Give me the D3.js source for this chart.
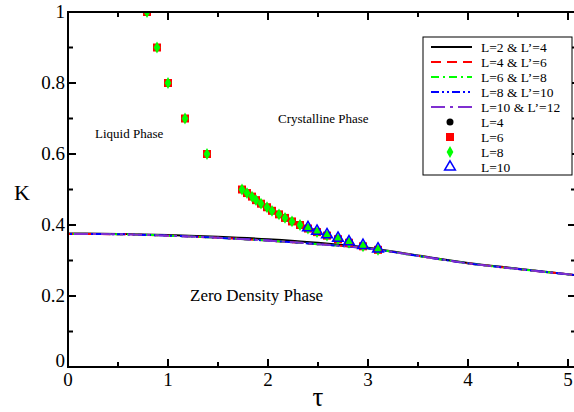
<!DOCTYPE html>
<html>
<head>
<meta charset="utf-8">
<script src="https://cdnjs.cloudflare.com/ajax/libs/d3/7.8.5/d3.min.js"></script>
<style>
  body { margin: 0; background: #fff; }
</style>
</head>
<body>
<div class="chart"></div>
<script>
const width = 574
const height = 412

// curves (tau, K)
const lineTau = [0, 0.5, 1.0, 1.5, 2.0, 2.5, 3.0, 3.5, 4.0, 4.5, 5.0, 5.1]
const lineK2 = [0.376, 0.375, 0.372, 0.367, 0.360, 0.350, 0.336, 0.314, 0.293, 0.277, 0.261, 0.258]
const lineK4 = [0.375, 0.374, 0.370, 0.364, 0.356, 0.346, 0.334, 0.313, 0.292, 0.276, 0.261, 0.258]
const lineK6 = lineK4
const lineK8 = lineK4
const lineK10 = lineK4

// transition points
const ptTau = [0.79, 0.89, 1.0, 1.17, 1.39, 1.74, 1.79, 1.84, 1.88, 1.93, 1.99, 2.04, 2.11, 2.17, 2.24, 2.32, 2.40, 2.49, 2.59, 2.70, 2.81, 2.95, 3.10]
const ptK = [1.0, 0.9, 0.8, 0.7, 0.6, 0.50, 0.49, 0.48, 0.47, 0.46, 0.45, 0.44, 0.43, 0.42, 0.41, 0.40, 0.39, 0.38, 0.37, 0.36, 0.35, 0.34, 0.33]
const pt10Tau = [2.40, 2.49, 2.59, 2.70, 2.81, 2.95, 3.10]
const pt10K = [0.39, 0.38, 0.37, 0.36, 0.35, 0.34, 0.33]

const xTicks = [0, 1, 2, 3, 4, 5]
const yTicks = [0, 0.2, 0.4, 0.6, 0.8, 1]

const pLeft = 68, pRight = 576, pTop = 12, pBottom = 367

const x = d3.scaleLinear().domain([0, 5.08]).range([pLeft, pRight])
const y = d3.scaleLinear().domain([0, 1]).range([pBottom, pTop])

const svg = d3.select('.chart')
    .append('svg')
        .attr('width', width)
        .attr('height', height)
        .attr('font-family', '"Liberation Serif", "Times New Roman", serif')

const defs = svg.append('defs')
defs.append('clipPath').attr('id', 'clip')
    .append('rect').attr('x', pLeft).attr('y', pTop).attr('width', pRight - pLeft).attr('height', pBottom - pTop)

const plot = svg.append('g').attr('clip-path', 'url(#clip)')

const lines = [
    {k: lineK4, color: '#ff0000', dash: '10,6', label: "L=4 & L\u2019=6"},
    {k: lineK6, color: '#00ff00', dash: '8,4,2,4', label: "L=6 & L\u2019=8"},
    {k: lineK8, color: '#0000ff', dash: '8,3,2,3,2,3', label: "L=8 & L\u2019=10"},
    {k: lineK10, color: '#7f2fd0', dash: '14,5,3,5', label: "L=10 & L\u2019=12"},
]
const lineGen = d3.line().x(d => x(d[0])).y(d => y(d[1])).curve(d3.curveMonotoneX)

plot.append('path')
    .attr('d', lineGen(lineTau.map((t, i) => [t, lineK2[i]])))
    .attr('fill', 'none').attr('stroke', '#000').attr('stroke-width', 2)

lines.forEach((l, j) => {
    plot.append('path')
        .attr('d', lineGen(lineTau.map((t, i) => [t, l.k[i]])))
        .attr('fill', 'none')
        .attr('stroke', l.color)
        .attr('stroke-width', 2)
        .attr('stroke-dasharray', l.dash)
        .attr('stroke-dashoffset', j * 7)
})

const pts = ptTau.map((t, i) => [t, ptK[i]])
const pts10 = pt10Tau.map((t, i) => [t, pt10K[i]])

plot.selectAll('.l4').data(pts).join('circle')
    .attr('cx', d => x(d[0])).attr('cy', d => y(d[1])).attr('r', 3.5).attr('fill', '#000')
plot.selectAll('.l6').data(pts).join('rect')
    .attr('x', d => x(d[0]) - 4).attr('y', d => y(d[1]) - 4)
    .attr('width', 8).attr('height', 8).attr('fill', '#ff0000')
plot.selectAll('.l8').data(pts).join('path')
    .attr('d', d3.symbol().type(d3.symbolDiamond).size(40))
    .attr('transform', d => `translate(${x(d[0])},${y(d[1])})`)
    .attr('fill', '#00ff00')
plot.selectAll('.l10').data(pts10).join('path')
    .attr('d', d3.symbol().type(d3.symbolTriangle).size(50))
    .attr('transform', d => `translate(${x(d[0])},${y(d[1]) - 1})`)
    .attr('fill', 'none').attr('stroke', '#0000ff').attr('stroke-width', 1.5)

// frame
svg.append('rect')
    .attr('x', pLeft).attr('y', pTop).attr('width', pRight - pLeft).attr('height', pBottom - pTop)
    .attr('fill', 'none').attr('stroke', '#000').attr('stroke-width', 2)

const ticks = svg.append('g').attr('stroke', '#000').attr('stroke-width', 2)
d3.range(0, 5.01, 0.5).forEach(v => {
    const len = Math.abs(v - Math.round(v)) < 1e-6 ? 8 : 5
    ticks.append('line').attr('x1', x(v)).attr('x2', x(v)).attr('y1', pBottom).attr('y2', pBottom - len)
    ticks.append('line').attr('x1', x(v)).attr('x2', x(v)).attr('y1', pTop).attr('y2', pTop + len)
})
d3.range(0, 1.001, 0.1).forEach(v => {
    const len = Math.round(v * 10) % 2 === 0 ? 8 : 5
    ticks.append('line').attr('y1', y(v)).attr('y2', y(v)).attr('x1', pLeft).attr('x2', pLeft + len)
    ticks.append('line').attr('y1', y(v)).attr('y2', y(v)).attr('x1', pRight).attr('x2', pRight - len)
})

svg.selectAll('.xl').data(xTicks).join('text')
    .attr('x', d => x(d)).attr('y', pBottom + 19)
    .attr('text-anchor', 'middle').attr('font-size', 19)
    .text(d => d)
svg.selectAll('.yl').data(yTicks).join('text')
    .attr('x', pLeft - 3).attr('y', d => y(d) + (d === 0 ? 0 : 6))
    .attr('text-anchor', 'end').attr('font-size', 19)
    .text(d => d)

svg.append('text').attr('x', x(2.5)).attr('y', 406).attr('text-anchor', 'middle')
    .attr('font-size', 27).text('\u03c4')
svg.append('text').attr('x', 22).attr('y', 200).attr('text-anchor', 'middle')
    .attr('font-size', 22).text('K')

svg.append('text').attr('x', 95).attr('y', 138).attr('font-size', 13).text('Liquid Phase')
svg.append('text').attr('x', 278).attr('y', 123).attr('font-size', 13).text('Crystalline Phase')
svg.append('text').attr('x', 190).attr('y', 301).attr('font-size', 17).text('Zero Density Phase')

// legend
const lg = svg.append('g')
lg.append('rect').attr('x', 423).attr('y', 37).attr('width', 149).attr('height', 138)
    .attr('fill', '#fff').attr('stroke', '#000').attr('stroke-width', 1)
const rowY = i => 47 + i * 15
const allLines = [{color: '#000', dash: null, label: "L=2 & L\u2019=4"}, ...lines]
allLines.forEach((l, i) => {
    lg.append('line').attr('x1', 431).attr('x2', 472).attr('y1', rowY(i)).attr('y2', rowY(i))
        .attr('stroke', l.color).attr('stroke-width', 2)
        .attr('stroke-dasharray', l.dash)
    lg.append('text').attr('x', 481).attr('y', rowY(i) + 4.5).attr('font-size', 13.5).text(l.label)
})
const mx = 450
lg.append('circle').attr('cx', mx).attr('cy', rowY(5)).attr('r', 3.5).attr('fill', '#000')
lg.append('rect').attr('x', mx - 4).attr('y', rowY(6) - 4).attr('width', 8).attr('height', 8).attr('fill', '#ff0000')
lg.append('path').attr('d', d3.symbol().type(d3.symbolDiamond).size(40))
    .attr('transform', `translate(${mx},${rowY(7)})`).attr('fill', '#00ff00')
lg.append('path').attr('d', d3.symbol().type(d3.symbolTriangle).size(50))
    .attr('transform', `translate(${mx},${rowY(8)})`).attr('fill', 'none').attr('stroke', '#0000ff').attr('stroke-width', 1.5)
;['L=4', 'L=6', 'L=8', 'L=10'].forEach((t, i) => {
    lg.append('text').attr('x', 481).attr('y', rowY(5 + i) + 4.5).attr('font-size', 13.5).text(t)
})
</script>
</body>
</html>
